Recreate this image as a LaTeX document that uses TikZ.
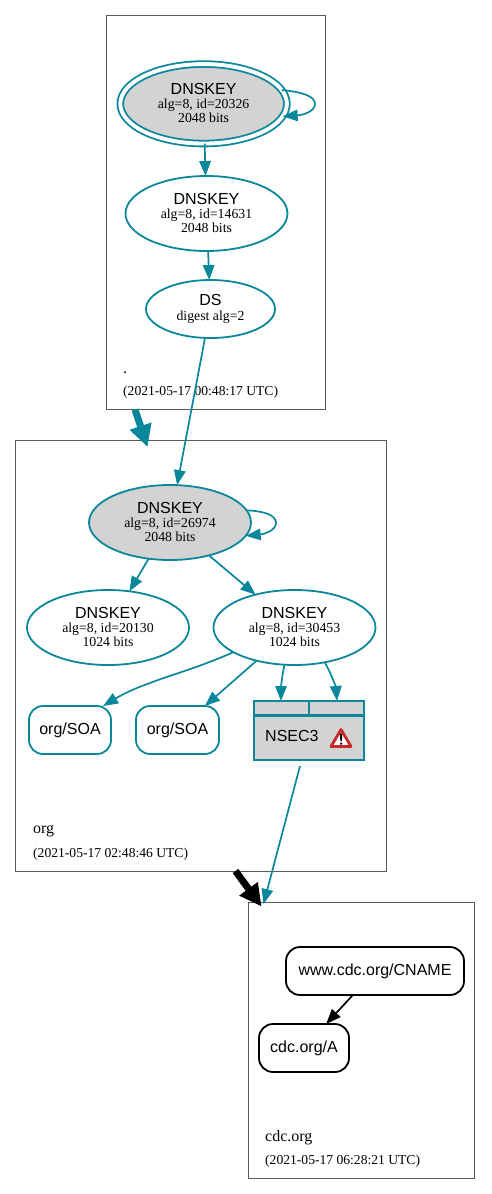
\documentclass[tikz,border=0pt]{standalone}
\usepackage{fontspec}
\setmainfont{Liberation Serif}
\setsansfont{Liberation Sans}
\usepackage{tikz}
\usetikzlibrary{shapes.geometric,arrows.meta,positioning,calc}
\definecolor{dnsTeal}{RGB}{10,135,154}
\definecolor{nodeGray}{RGB}{211,211,211}
\definecolor{boxLine}{RGB}{90,90,90}
\definecolor{warnRed}{RGB}{200,40,40}
\newcommand{\keytext}[2]{{\sffamily\fontsize{16}{15}\selectfont DNSKEY}\\alg=8, id=#1\\#2 bits\rule[-2pt]{0pt}{2pt}}
\begin{document}
\begin{tikzpicture}[
      x=1pt, y=-1pt,
      keynode/.style={ellipse, draw=dnsTeal, line width=1.8pt, minimum width=162pt,
        minimum height=75pt, inner sep=0pt, outer sep=0pt, align=center,
        font=\fontsize{13.8}{14}\selectfont},
      signer/.style={keynode, fill=nodeGray},
      rrnode/.style={rectangle, rounded corners=14pt, draw=dnsTeal, line width=1.8pt,
        minimum height=48pt, inner sep=0pt, outer sep=0pt,
        font=\sffamily\fontsize{16}{15}\selectfont},
      cnamenode/.style={rrnode, draw=black},
      zonebox/.style={rectangle, draw=boxLine, line width=0.8pt, inner sep=0pt},
      zonename/.style={anchor=base west, inner sep=0pt, font=\fontsize{16}{15}\selectfont},
      zonedate/.style={anchor=base west, inner sep=0pt, font=\fontsize{13.6}{14}\selectfont},
      edge/.style={-{Triangle[length=15pt,width=11.5pt]}, line width=1.7pt, dnsTeal},
      zoneedge/.style={-{Triangle[length=22pt,width=21.5pt]}, line width=7pt},
      >=Stealth
    ]
      \useasboundingbox (0,0) rectangle (491,1194);

      % Zones
      \node[zonebox, minimum width=219pt, minimum height=394pt] (rootzone) at (216,212.5) {};
      \node[zonename] (rootname) at (123,373) {.};
      \node[zonedate] (rootdate) at (123,395) {(2021-05-17 00:48:17 UTC)};

      \node[zonebox, minimum width=371pt, minimum height=431pt] (orgzone) at (201,656) {};
      \node[zonename] (orgname) at (33,833) {org};
      \node[zonedate] (orgdate) at (33,857) {(2021-05-17 02:48:46 UTC)};

      \node[zonebox, minimum width=226pt, minimum height=276pt] (cdczone) at (361,1040) {};
      \node[zonename] (cdcname) at (265,1141) {cdc.org};
      \node[zonedate] (cdcdate) at (265,1164) {(2021-05-17 06:28:21 UTC)};

      % Root keys
      \node[signer, double=white, double distance=3.9pt, minimum width=166.6pt, minimum height=79.5pt]
        (ksk) at (203.6,103.8) {\keytext{20326}{2048}};
      \node[keynode] (zsk) at (206.5,213.5) {\keytext{14631}{2048}};
      \node[keynode, minimum width=129pt, minimum height=58pt] (ds) at (210.5,309)
        {{\sffamily\fontsize{16}{15}\selectfont DS}\\[1pt]digest alg=2};

      % Org keys
      \node[signer] (orgksk) at (170,522.5) {\keytext{26974}{2048}};
      \node[keynode] (orgzska) at (108,627.5) {\keytext{20130}{1024}};
      \node[keynode] (orgzskb) at (294.5,627.5) {\keytext{30453}{1024}};
      \node[rrnode, minimum width=82pt] (soaa) at (70,730) {org/SOA};
      \node[rrnode, minimum width=83pt] (soab) at (177.5,730) {org/SOA};

      % NSEC3 box
      \node[rectangle, draw=dnsTeal, fill=nodeGray, line width=2.6pt, minimum width=110pt,
        minimum height=59pt, inner sep=0pt, outer sep=0pt] (nsec) at (309,730.5) {};
      \draw[dnsTeal, line width=3pt] (nsec.west |- 0,715) -- (nsec.east |- 0,715);
      \draw[dnsTeal, line width=2.6pt] (nsec.north) -- (nsec.north |- 0,715);
      \node[anchor=base west, inner sep=0pt, font=\sffamily\fontsize{16}{15}\selectfont]
        (nsectext) at (265,741) {NSEC3};
      \draw[warnRed, fill=white, line width=2.8pt, line join=round] (341,729.5) -- (351,746.5) -- (331,746.5) -- cycle;
      \fill[black] (339.8,733.5) -- (342.4,733.5) -- (341.8,741) -- (340.4,741) -- cycle;
      \fill[black] (341.1,743.6) circle (1.3);

      % Cdc records
      \node[cnamenode, minimum width=178pt] (cname) at (375,971) {www.cdc.org/CNAME};
      \node[cnamenode, minimum width=90pt] (arec) at (304,1048) {cdc.org/A};

      % Arrows
      \draw[edge] (ksk.10) .. controls (302,92) and (315,96) .. (315,104)
        .. controls (315,111) and (304,115) .. (ksk.-9);
      \draw[edge] (ksk) -- (zsk);
      \draw[edge] (zsk) -- (ds);
      \draw[edge] (ds) -- (orgksk);
      \draw[edge] (orgksk.9) .. controls (264,511) and (276,515) .. (276,523)
        .. controls (276,530) and (265,534) .. (orgksk.-10);
      \draw[edge] (orgksk) -- (orgzska);
      \draw[edge] (orgksk) -- (orgzskb);
      \draw[edge] (orgzskb.202) .. controls (195,669) and (170,675) .. (150,683)
        .. controls (130,690) and (118,697) .. (soaa.36);
      \draw[edge] (orgzskb) -- (soab);
      \draw[edge] (orgzskb.255) .. controls (282,675) and (281,688) .. (nsec.north -| 281,0);
      \draw[edge] (orgzskb.-49) .. controls (332,675) and (336,688) .. (nsec.north -| 337,0);

      \coordinate (nsecout) at (300,766);
      \coordinate (cdcin) at (263.5,904);
      \draw[edge] (nsecout) -- (cdcin);

      \coordinate (rootout) at (135,409.5);
      \coordinate (orgin) at (147.5,447);
      \draw[zoneedge, dnsTeal] (rootout) -- (orgin);

      \coordinate (orgout) at (235.5,871);
      \coordinate (cdcarrow) at (261.5,906.5);
      \draw[zoneedge, black] (orgout) -- (cdcarrow);

      \draw[edge, black] (cname) -- (arec);
    \end{tikzpicture}
\end{document}
